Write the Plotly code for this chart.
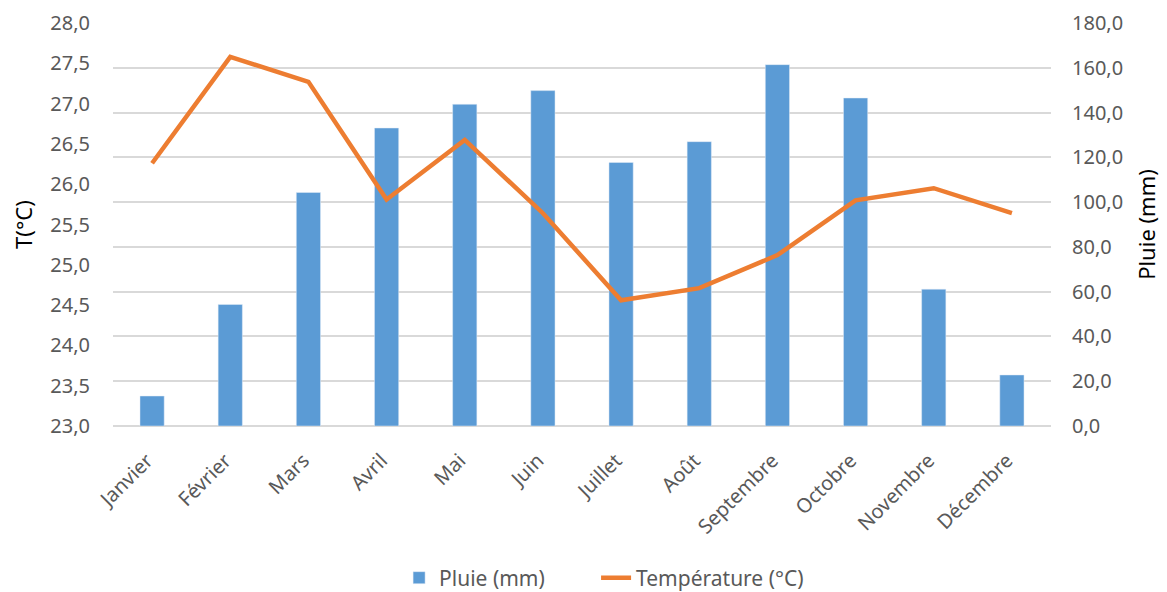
import plotly.graph_objects as go

mois = ["Janvier", "Février", "Mars", "Avril", "Mai", "Juin", "Juillet", "Août",
        "Septembre", "Octobre", "Novembre", "Décembre"]
pluie = [13.4, 54.3, 104.3, 133.1, 143.7, 149.8, 117.7, 127.0, 161.4, 146.5, 61.1, 22.8]
temperature = [26.26, 27.58, 27.27, 25.81, 26.55, 25.64, 24.56, 24.71, 25.12, 25.80, 25.95, 25.64]

FONT = "Noto Sans"
GREY = "#595959"

fig = go.Figure()
fig.add_trace(go.Bar(x=mois, y=pluie, name="Pluie (mm)", marker_color="#5B9BD5",
                     yaxis="y", legend="legend"))
fig.add_trace(go.Scatter(x=mois, y=temperature, name="Température (°C)", mode="lines",
                         line=dict(color="#ED7D31", width=4.5), yaxis="y2",
                         legend="legend2"))

legend_common = dict(orientation="h", xref="paper", xanchor="left",
                     yref="container", y=0.0236, yanchor="middle",
                     font=dict(size=21, color=GREY))

fig.update_layout(
    width=1167, height=592,
    margin=dict(l=113, r=116, t=23, b=166),
    paper_bgcolor="white", plot_bgcolor="white",
    separators=", ",
    bargap=0.69,
    font=dict(family=FONT, color=GREY, size=20),
    showlegend=True,
    legend=dict(x=0.305, **legend_common),
    legend2=dict(x=0.515, **legend_common),
    xaxis=dict(tickangle=-45, showgrid=False, showline=False, ticks="",
               automargin=False, ticklabelstandoff=18, ticklabelshift=-5,
               tickfont=dict(size=20, color=GREY)),
    yaxis=dict(side="right", range=[0, 180], dtick=20, tickformat=".1f",
               showgrid=True, gridcolor="#d9d9d9", gridwidth=1.5,
               zeroline=True, zerolinecolor="#d9d9d9", zerolinewidth=1.5,
               showline=False, ticks="", automargin=False, ticklabelstandoff=20,
               title=dict(text="Pluie (mm)", font=dict(size=22, color="black"), standoff=17),
               tickfont=dict(size=20, color=GREY)),
    yaxis2=dict(side="left", overlaying="y", range=[23, 28], dtick=0.5, tickformat=".1f",
                showgrid=False, zeroline=False, showline=False, ticks="",
                automargin=False, ticklabelstandoff=22,
                title=dict(text="T(°C)", font=dict(size=22, color="black"), standoff=11),
                tickfont=dict(size=20, color=GREY)),
)

fig.write_html("out.html", config={"displayModeBar": False},
               post_script="document.body.style.margin='0';document.body.style.overflow='hidden';")
